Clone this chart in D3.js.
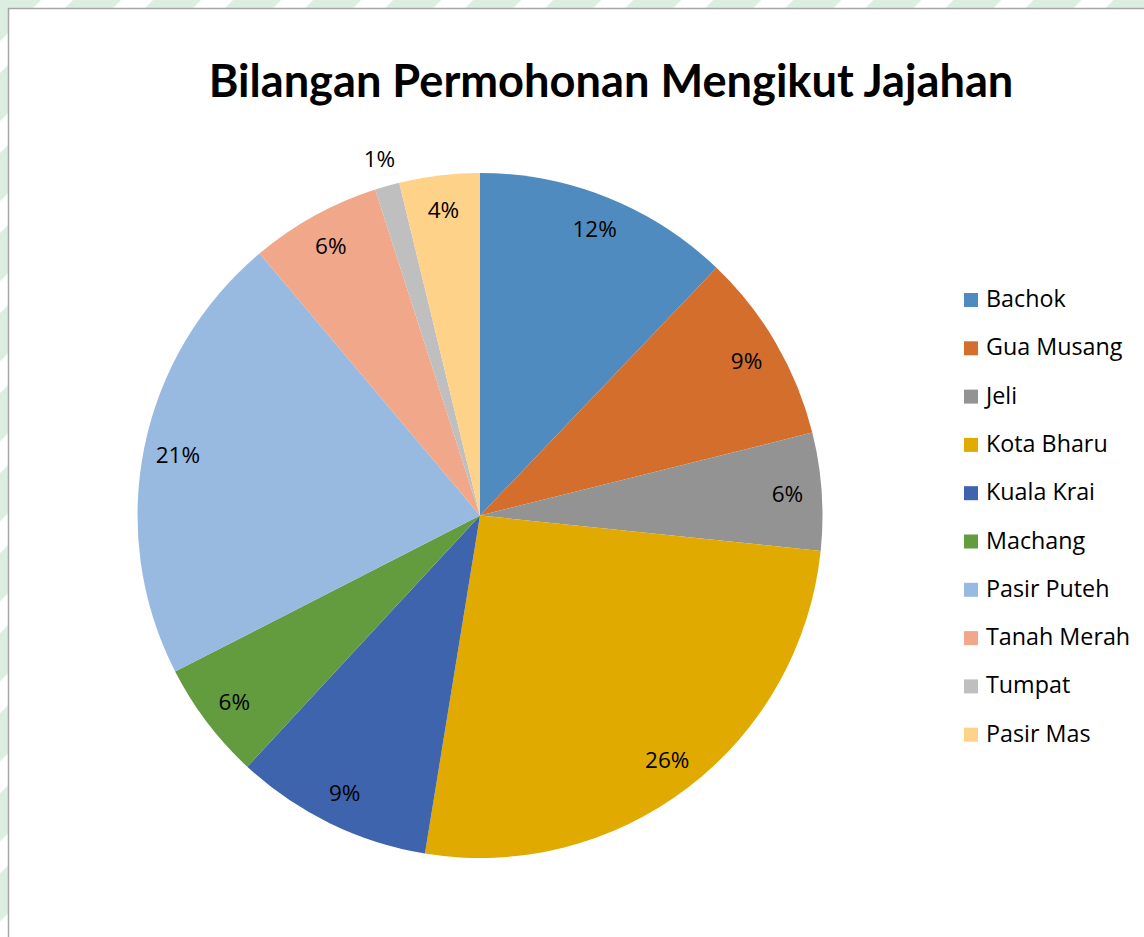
<!DOCTYPE html>
<html>
<head>
<meta charset="utf-8">
<script src="https://cdn.jsdelivr.net/npm/d3@7"></script>
<style>
  html, body { margin: 0; padding: 0; background: #fff; }
  svg { display: block; }
</style>
</head>
<body>
<svg id="chart" width="1144" height="937"></svg>
<script>
const categories = ["Bachok", "Gua Musang", "Jeli", "Kota Bharu", "Kuala Krai", "Machang", "Pasir Puteh", "Tanah Merah", "Tumpat", "Pasir Mas"];
const values = [12.13, 8.98, 5.54, 25.92, 9.32, 5.58, 21.40, 6.18, 1.16, 3.79];
const colors = ["#508BBF", "#D36E2C", "#939393", "#E1AA00", "#3D64AD", "#639B3F", "#98B9E0", "#F1A88A", "#BFBFBF", "#FFD28A"];
const title = "Bilangan Permohonan Mengikut Jajahan";

const W = 1144, H = 937;
const svg = d3.select("#chart");
const FONT_T = "Lato, 'Open Sans', sans-serif";
const FONT = "'Open Sans', Lato, sans-serif";

// striped background
const defs = svg.append("defs");
const pat = defs.append("pattern")
  .attr("id", "stripes")
  .attr("patternUnits", "userSpaceOnUse")
  .attr("width", 56.6).attr("height", 56.6)
  .attr("patternTransform", "rotate(45) translate(-5,0)");
pat.append("rect").attr("width", 56.6).attr("height", 56.6).attr("fill", "#ffffff");
pat.append("rect").attr("width", 34).attr("height", 56.6).attr("fill", "#dbeee1");
svg.append("rect").attr("width", W).attr("height", H).attr("fill", "url(#stripes)");

// chart frame
svg.append("rect")
  .attr("x", 8.5).attr("y", 8.5)
  .attr("width", W + 20).attr("height", H + 20)
  .attr("fill", "#ffffff")
  .attr("stroke", "#a6a6a6").attr("stroke-width", 1.5);

// title
svg.append("text")
  .attr("x", 611).attr("y", 97)
  .attr("text-anchor", "middle")
  .attr("font-family", FONT_T)
  .attr("font-weight", "bold")
  .attr("font-size", 45.2)
  .attr("fill", "#000")
  .text(title);

// pie
const cx = 480, cy = 515.5, R = 342.5;
const total = d3.sum(values);
const data = categories.map((c, i) => ({ name: c, value: values[i], color: colors[i] }));
const pie = d3.pie().value(d => d.value).sort(null);
const arcs = pie(data);
const arc = d3.arc().innerRadius(0).outerRadius(R);
const g = svg.append("g").attr("transform", `translate(${cx},${cy})`);

g.selectAll("path").data(arcs).join("path")
  .attr("d", arc)
  .attr("fill", d => d.data.color);

const labelArcIn = d3.arc().innerRadius(R * 0.9).outerRadius(R * 0.9);
const labelArcOut = d3.arc().innerRadius(R * 1.083).outerRadius(R * 1.083);
const fmt = d3.format(".0%");
g.selectAll("text.lbl").data(arcs).join("text")
  .attr("class", "lbl")
  .attr("transform", d => {
    const small = d.data.value / total < 0.02;
    const p = (small ? labelArcOut : labelArcIn).centroid(d);
    return `translate(${p[0]},${p[1]})`;
  })
  .attr("text-anchor", "middle")
  .attr("dy", "0.36em")
  .attr("font-family", FONT)
  .attr("font-size", 22.5)
  .attr("fill", "#000")
  .text(d => fmt(d.data.value / total));

// legend
const legend = svg.append("g").attr("transform", "translate(964,293)");
const item = legend.selectAll("g").data(data).join("g")
  .attr("transform", (d, i) => `translate(0,${i * 48.3})`);
item.append("rect").attr("width", 14).attr("height", 14).attr("fill", d => d.color);
item.append("text")
  .attr("x", 22).attr("y", 14)
  .attr("font-family", FONT)
  .attr("font-size", 23.3)
  .attr("fill", "#000")
  .text(d => d.name);
</script>
</body>
</html>
